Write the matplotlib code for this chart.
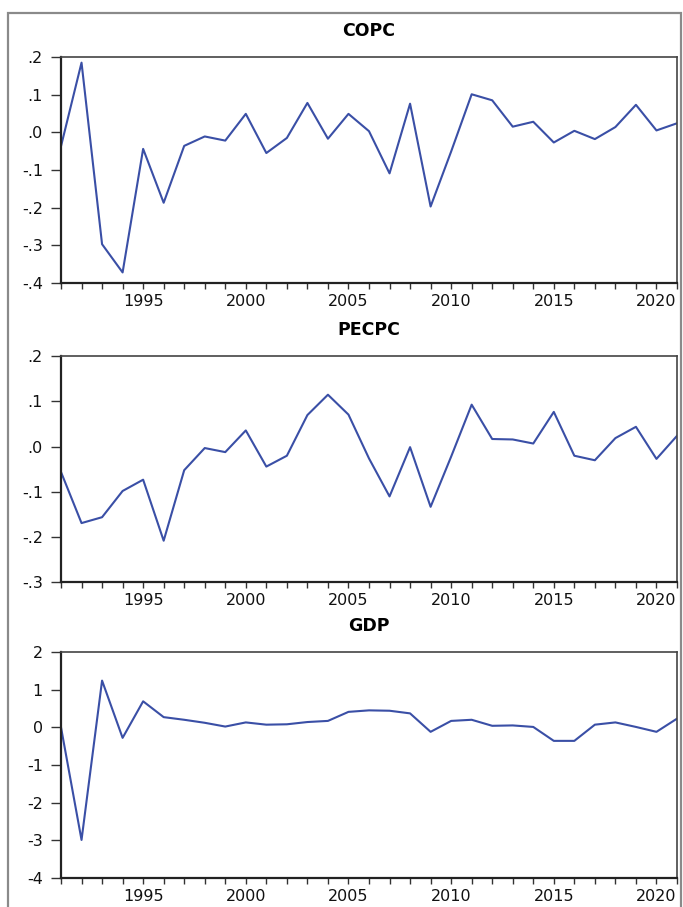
import matplotlib
matplotlib.use("Agg")
import matplotlib.pyplot as plt
from matplotlib.patches import Rectangle
from matplotlib.ticker import MultipleLocator, FuncFormatter

plt.rcParams['font.family'] = ['DejaVu Sans']

years = list(range(1991, 2022))

copc = [-0.037, 0.185, -0.297, -0.372, -0.044, -0.187, -0.036, -0.011, -0.022, 0.049,
        -0.055, -0.015, 0.078, -0.017, 0.049, 0.003, -0.109, 0.076, -0.197, -0.051,
        0.101, 0.085, 0.015, 0.028, -0.027, 0.004, -0.018, 0.014, 0.073, 0.005, 0.024]

pecpc = [-0.056, -0.169, -0.156, -0.098, -0.073, -0.208, -0.052, -0.003, -0.012, 0.036,
         -0.044, -0.020, 0.070, 0.115, 0.071, -0.026, -0.110, -0.001, -0.133, -0.022,
         0.093, 0.017, 0.016, 0.007, 0.077, -0.020, -0.030, 0.019, 0.044, -0.027, 0.024]

gdp = [0.0, -2.99, 1.24, -0.28, 0.69, 0.27, 0.20, 0.12, 0.02, 0.13,
       0.07, 0.08, 0.14, 0.17, 0.41, 0.45, 0.44, 0.37, -0.12, 0.17,
       0.20, 0.04, 0.05, 0.01, -0.36, -0.36, 0.07, 0.13, 0.01, -0.12, 0.23]

panels = [
    ("COPC", copc, (-0.4, 0.2), 0.1, 0.688),
    ("PECPC", pecpc, (-0.3, 0.2), 0.1, 0.358),
    ("GDP", gdp, (-4, 2), 1, 0.032),
]


def dot_fmt(v, pos):
    s = "%.1f" % v
    if s == "-0.0":
        s = "0.0"
    return s.replace("0.", ".", 1)


fig = plt.figure(figsize=(6.83, 9.07), dpi=100)

# outer frame
fig.patches.append(Rectangle((8 / 683, -0.01), 673 / 683, 1 - 13 / 907 + 0.01,
                             transform=fig.transFigure, fill=False,
                             edgecolor="#8a8a8a", linewidth=1.6))

for title, vals, ylim, step, bottom in panels:
    ax = fig.add_axes([61 / 683, bottom, 616 / 683, 226 / 907])
    ax.plot(years, vals, color="#3a4fa6", linewidth=1.5)
    ax.set_xlim(1991, 2021)
    ax.set_ylim(*ylim)
    ax.xaxis.set_major_locator(MultipleLocator(5))
    ax.xaxis.set_minor_locator(MultipleLocator(1))
    ax.yaxis.set_major_locator(MultipleLocator(step))
    if step < 1:
        ax.yaxis.set_major_formatter(FuncFormatter(dot_fmt))
    else:
        ax.yaxis.set_major_formatter(FuncFormatter(lambda v, p: "%d" % v))
    ax.tick_params(axis="both", which="both", direction="out", labelsize=11.5,
                   width=1.0, color="#333333", labelcolor="#111111")
    ax.tick_params(axis="x", which="both", length=4, pad=4)
    ax.tick_params(axis="y", length=7, pad=6)
    ax.tick_params(top=False, right=False)
    for side in ["left", "bottom"]:
        ax.spines[side].set_linewidth(1.6)
        ax.spines[side].set_color("#222222")
    for side in ["top", "right"]:
        ax.spines[side].set_linewidth(1.2)
        ax.spines[side].set_color("#444444")
    ax.set_title(title, fontsize=12.5, fontweight="bold", pad=15)

plt.savefig("out.png", dpi=100)
